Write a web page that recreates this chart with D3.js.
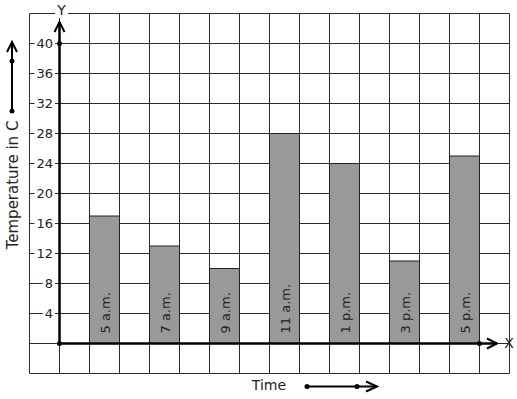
<!DOCTYPE html>
<html>
<head>
<meta charset="utf-8">
<script src="https://cdn.jsdelivr.net/npm/d3@7"></script>
<style>
  body { margin: 0; background: #fff; }
  svg { display: block; font-family: "DejaVu Sans", sans-serif; }
</style>
</head>
<body>
<svg id="chart" width="517" height="399"></svg>
<script>
// data
var times = ["5 a.m.", "7 a.m.", "9 a.m.", "11 a.m.", "1 p.m.", "3 p.m.", "5 p.m."];
var temps = [17, 13, 10, 28, 24, 11, 25];
var yTicks = [4, 8, 12, 16, 20, 24, 28, 32, 36, 40];

var svg = d3.select("#chart");

// one grid cell = 1 unit on x, 4 units on y
var x = d3.scaleLinear().domain([-1, 15]).range([29.5, 509.5]);
var y = d3.scaleLinear().domain([0, 40]).range([343.5, 43.5]);

// grid
var grid = svg.append("g").attr("stroke", "#2a2a2a").attr("stroke-width", 1);
grid.selectAll("line.v").data(d3.range(-1, 16)).enter().append("line")
    .attr("x1", function(d) { return x(d); }).attr("x2", function(d) { return x(d); })
    .attr("y1", y(44)).attr("y2", y(-4));
grid.selectAll("line.h").data(d3.range(-4, 45, 4)).enter().append("line")
    .attr("y1", function(d) { return y(d); }).attr("y2", function(d) { return y(d); })
    .attr("x1", x(-1)).attr("x2", x(15));

// bars
svg.append("g").selectAll("rect").data(temps).enter().append("rect")
    .attr("x", function(d, i) { return x(1 + 2 * i); })
    .attr("width", x(2) - x(1))
    .attr("y", function(d) { return y(d); })
    .attr("height", function(d) { return y(0) - y(d); })
    .attr("fill", "#999999")
    .attr("stroke", "#222")
    .attr("stroke-width", 1);

svg.append("g").selectAll("text").data(times).enter().append("text")
    .attr("transform", function(d, i) {
        return "translate(" + (x(1.5 + 2 * i) + 5) + "," + (y(0) - 10) + ") rotate(-90)";
    })
    .attr("font-size", 13)
    .attr("fill", "#222")
    .text(function(d) { return d; });

// y tick labels with white background over the grid
var tk = svg.append("g");
yTicks.forEach(function(v) {
    var g = tk.append("g");
    var t = g.append("text")
        .attr("x", 53).attr("y", y(v)).attr("dy", "0.35em")
        .attr("text-anchor", "end").attr("font-size", 13).attr("fill", "#222")
        .text(v);
    var b = t.node().getBBox();
    g.insert("rect", "text")
        .attr("x", b.x - 2).attr("y", b.y).attr("width", b.width + 4).attr("height", b.height)
        .attr("fill", "#fff");
});

// axes
var ax = svg.append("g").attr("stroke", "#000").attr("fill", "none");
ax.append("line").attr("x1", x(0)).attr("x2", x(0)).attr("y1", y(0)).attr("y2", 22)
    .attr("stroke-width", 2.5);
ax.append("path").attr("d", "M" + (x(0) - 5) + ",32 L" + x(0) + ",22 L" + (x(0) + 5) + ",32")
    .attr("stroke-width", 2);
ax.append("line").attr("x1", x(0)).attr("x2", 497).attr("y1", y(0)).attr("y2", y(0))
    .attr("stroke-width", 2.5);
ax.append("path").attr("d", "M487," + (y(0) - 5) + " L497," + y(0) + " L487," + (y(0) + 5))
    .attr("stroke-width", 2);

var dots = [[x(0), y(0)], [x(0), y(40)], [x(14), y(0)]];
svg.append("g").selectAll("circle").data(dots).enter().append("circle")
    .attr("cx", function(d) { return d[0]; }).attr("cy", function(d) { return d[1]; })
    .attr("r", 2.5).attr("fill", "#000");

// axis letters
var yl = svg.append("g");
yl.append("rect").attr("x", 55).attr("y", 4).attr("width", 13).attr("height", 14).attr("fill", "#fff");
yl.append("text").attr("x", 61.5).attr("y", 15).attr("text-anchor", "middle")
    .attr("font-size", 14).attr("fill", "#222").text("Y");
svg.append("text").attr("x", 509).attr("y", y(0)).attr("dy", "0.35em").attr("text-anchor", "middle")
    .attr("font-size", 14).attr("fill", "#222").text("X");

// titles
svg.append("text")
    .attr("transform", "translate(18,185) rotate(-90)")
    .attr("text-anchor", "middle").attr("font-size", 15).attr("fill", "#222")
    .text("Temperature in C");
svg.append("text").attr("x", 269).attr("y", 390).attr("text-anchor", "middle")
    .attr("font-size", 14).attr("fill", "#222").text("Time");

// decorative direction arrows
var arr = svg.append("g").attr("stroke", "#000").attr("fill", "none").attr("stroke-width", 2);
arr.append("line").attr("x1", 12).attr("x2", 12).attr("y1", 111).attr("y2", 43);
arr.append("path").attr("d", "M7,52 L12,42 L17,52");
arr.append("line").attr("x1", 307).attr("x2", 376).attr("y1", 386.5).attr("y2", 386.5);
arr.append("path").attr("d", "M366,381.5 L377,386.5 L366,391.5");
svg.append("g").selectAll("circle").data([[12, 61], [12, 111], [307, 386.5], [357, 386.5]])
    .enter().append("circle")
    .attr("cx", function(d) { return d[0]; }).attr("cy", function(d) { return d[1]; })
    .attr("r", 2.5).attr("fill", "#000");
</script>
</body>
</html>
